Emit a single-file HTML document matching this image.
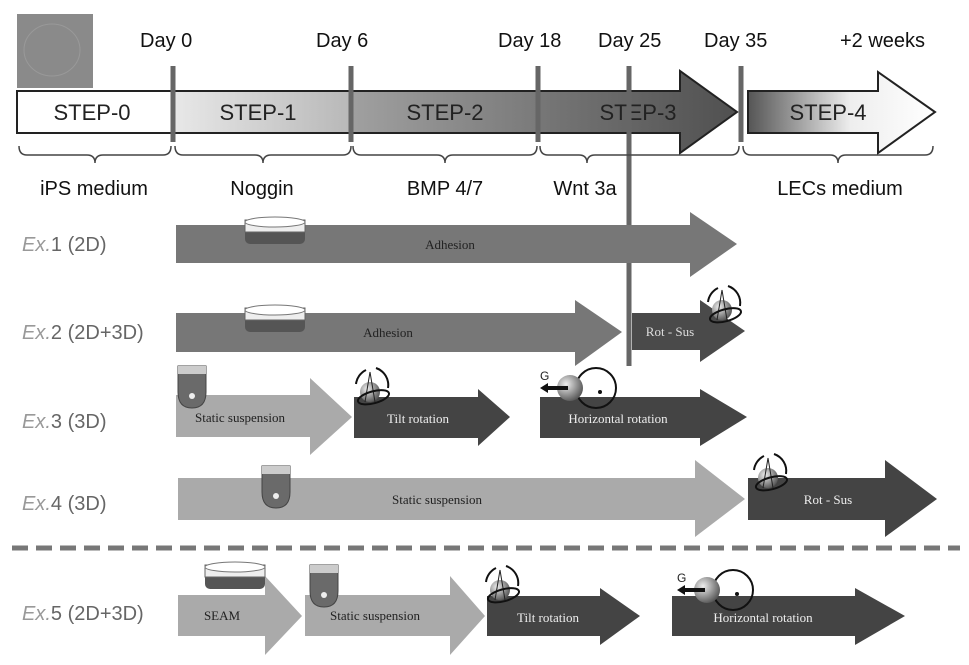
<!DOCTYPE html>
<html><head><meta charset="utf-8"><style>
body{margin:0;background:#fff}
svg{display:block}
text{font-family:"Liberation Sans",sans-serif}
.s{font-family:"Liberation Serif",serif;font-size:13px}
</style></head><body>
<svg width="969" height="665" viewBox="0 0 969 665" xmlns="http://www.w3.org/2000/svg">
<defs>
<linearGradient id="g1" x1="0" x2="1"><stop offset="0" stop-color="#e8e8e8"/><stop offset="1" stop-color="#b8b8b8"/></linearGradient>
<linearGradient id="g2" x1="0" x2="1"><stop offset="0" stop-color="#a0a0a0"/><stop offset="1" stop-color="#7a7a7a"/></linearGradient>
<linearGradient id="g3" x1="0" x2="1"><stop offset="0" stop-color="#777"/><stop offset="1" stop-color="#505050"/></linearGradient>
<linearGradient id="g4" x1="0" x2="1"><stop offset="0" stop-color="#555"/><stop offset="0.55" stop-color="#eee"/><stop offset="1" stop-color="#fff"/></linearGradient>
<radialGradient id="sp" cx="0.35" cy="0.35" r="0.7"><stop offset="0" stop-color="#eee"/><stop offset="1" stop-color="#555"/></radialGradient>
<g id="tilt"><path d="M-14,-8 A18,18 0 0 1 -4,-22" fill="none" stroke="#111" stroke-width="2"/><path d="M6,-24 A18,18 0 0 1 18,-4" fill="none" stroke="#111" stroke-width="2"/><circle r="10" fill="url(#sp)"/><path d="M0,-20 L-5,10 M0,-20 L5,10" stroke="#222" fill="none"/><ellipse cx="2" cy="6" rx="16" ry="6" fill="none" stroke="#111" stroke-width="2" transform="rotate(-15)"/></g>
<g id="hor"><circle cx="26" r="20" fill="none" stroke="#111" stroke-width="2"/><circle cx="30" cy="4" r="2" fill="#111"/><circle r="13" fill="url(#sp)"/><path d="M-2,0 H-26" stroke="#111" stroke-width="4"/><path d="M-30,0 L-22,-5 L-22,5Z" fill="#111"/><text x="-30" y="-8" font-size="12" fill="#222">G</text></g>
<g id="tube"><path d="M0,0 H28 V26 Q28,42 14,42 Q0,42 0,26Z" fill="#6a6a6a" stroke="#444"/><rect x="0" y="0" width="28" height="8" fill="#ccc"/><circle cx="14" cy="30" r="3" fill="#eee"/></g>
<g id="dish"><rect x="0" y="0" width="60" height="24" rx="5" fill="#555"/><rect x="0" y="0" width="60" height="12" fill="#eee" stroke="#666"/><ellipse cx="30" cy="2" rx="30" ry="5" fill="#fff" stroke="#777"/></g>
</defs>
<rect x="17" y="14" width="76" height="74" fill="#8a8a8a"/>
<ellipse cx="52" cy="50" rx="28" ry="26" fill="none" stroke="#999"/>
<g font-size="20" fill="#111">
<text x="140" y="47">Day 0</text><text x="316" y="47">Day 6</text><text x="498" y="47">Day 18</text><text x="598" y="47">Day 25</text><text x="704" y="47">Day 35</text><text x="840" y="47">+2 weeks</text>
</g>
<rect x="17" y="91" width="156" height="42" fill="#fff" stroke="#222" stroke-width="2"/>
<rect x="173" y="91" width="178" height="42" fill="url(#g1)" stroke="#222" stroke-width="2"/>
<rect x="351" y="91" width="187" height="42" fill="url(#g2)" stroke="#222" stroke-width="2"/>
<path d="M538,91 H680 V71 L737,112 L680,153 V133 H538Z" fill="url(#g3)" stroke="#222" stroke-width="2"/>
<path d="M748,91 H878 V72 L935,112 L878,153 V133 H748Z" fill="url(#g4)" stroke="#222" stroke-width="2"/>
<g font-size="22" fill="#222" text-anchor="middle">
<text x="92" y="120">STEP-0</text><text x="258" y="120">STEP-1</text><text x="445" y="120">STEP-2</text><text x="638" y="120">STEP-3</text><text x="828" y="120">STEP-4</text>
</g>
<g stroke="#666" stroke-width="5"><path d="M173,66V142M351,66V142M538,66V142M741,66V142"/><path d="M629,66V366"/></g>
<g fill="none" stroke="#444" stroke-width="1.5">
<path d="M19,146 q0,9 8,9 h60 q8,0 8,8 q0,-8 8,-8 h60 q8,0 8,-9"/>
<path d="M175,146 q0,9 8,9 h72 q8,0 8,8 q0,-8 8,-8 h72 q8,0 8,-9"/>
<path d="M353,146 q0,9 8,9 h76 q8,0 8,8 q0,-8 8,-8 h76 q8,0 8,-9"/>
<path d="M540,146 q0,9 8,9 h31 q8,0 8,8 q0,-8 8,-8 h136 q8,0 8,-9"/>
<path d="M743,146 q0,9 8,9 h79 q8,0 8,8 q0,-8 8,-8 h79 q8,0 8,-9"/>
</g>
<g font-size="20" fill="#111" text-anchor="middle">
<text x="94" y="195">iPS medium</text><text x="262" y="195">Noggin</text><text x="445" y="195">BMP 4/7</text><text x="585" y="195">Wnt 3a</text><text x="840" y="195">LECs medium</text>
</g>
<g font-size="20" fill="#666">
<text x="22" y="251"><tspan font-style="italic" fill="#999">Ex.</tspan>1 (2D)</text>
<text x="22" y="339"><tspan font-style="italic" fill="#999">Ex.</tspan>2 (2D+3D)</text>
<text x="22" y="428"><tspan font-style="italic" fill="#999">Ex.</tspan>3 (3D)</text>
<text x="22" y="510"><tspan font-style="italic" fill="#999">Ex.</tspan>4 (3D)</text>
<text x="22" y="620"><tspan font-style="italic" fill="#999">Ex.</tspan>5 (2D+3D)</text>
</g>
<path d="M176,225 H690 V212 L737,244 L690,277 V263 H176Z" fill="#777"/>
<use href="#dish" x="245" y="220"/>
<text class="s" x="450" y="249" text-anchor="middle" fill="#222">Adhesion</text>
<path d="M176,313 H575 V300 L622,332 L575,366 V352 H176Z" fill="#777"/>
<use href="#dish" x="245" y="308"/>
<text class="s" x="388" y="337" text-anchor="middle" fill="#222">Adhesion</text>
<path d="M632,313 H700 V300 L745,331 L700,362 V350 H632Z" fill="#4a4a4a"/>
<text class="s" x="670" y="336" text-anchor="middle" fill="#ddd">Rot - Sus</text>
<use href="#tilt" x="722" y="310"/>
<path d="M176,395 H310 V378 L352,417 L310,455 V437 H176Z" fill="#aaa"/>
<use href="#tube" x="178" y="366"/>
<text class="s" x="240" y="422" text-anchor="middle" fill="#222">Static suspension</text>
<path d="M354,397 H478 V389 L510,417 L478,446 V438 H354Z" fill="#444"/>
<text class="s" x="418" y="423" text-anchor="middle" fill="#eee">Tilt rotation</text>
<use href="#tilt" x="370" y="392"/>
<path d="M540,397 H700 V389 L747,417 L700,446 V438 H540Z" fill="#444"/>
<text class="s" x="618" y="423" text-anchor="middle" fill="#eee">Horizontal rotation</text>
<use href="#hor" x="570" y="388"/>
<path d="M178,478 H695 V460 L745,499 L695,537 V520 H178Z" fill="#aaa"/>
<use href="#tube" x="262" y="466"/>
<text class="s" x="437" y="504" text-anchor="middle" fill="#222">Static suspension</text>
<path d="M748,478 H885 V460 L937,499 L885,537 V520 H748Z" fill="#444"/>
<text class="s" x="828" y="504" text-anchor="middle" fill="#eee">Rot - Sus</text>
<use href="#tilt" x="768" y="478"/>
<path d="M12,548 H960" stroke="#777" stroke-width="5" stroke-dasharray="16,8"/>
<path d="M178,595 H265 V576 L302,616 L265,655 V636 H178Z" fill="#aaa"/>
<use href="#dish" x="205" y="565"/>
<text class="s" x="222" y="620" text-anchor="middle" fill="#222">SEAM</text>
<path d="M305,595 H450 V576 L485,616 L450,655 V636 H305Z" fill="#aaa"/>
<use href="#tube" x="310" y="565"/>
<text class="s" x="375" y="620" text-anchor="middle" fill="#222">Static suspension</text>
<path d="M487,596 H600 V588 L640,616 L600,645 V636 H487Z" fill="#444"/>
<text class="s" x="548" y="622" text-anchor="middle" fill="#eee">Tilt rotation</text>
<use href="#tilt" x="500" y="590"/>
<path d="M672,596 H855 V588 L905,616 L855,645 V636 H672Z" fill="#444"/>
<text class="s" x="763" y="622" text-anchor="middle" fill="#eee">Horizontal rotation</text>
<use href="#hor" x="707" y="590"/>
</svg>
</body></html>
